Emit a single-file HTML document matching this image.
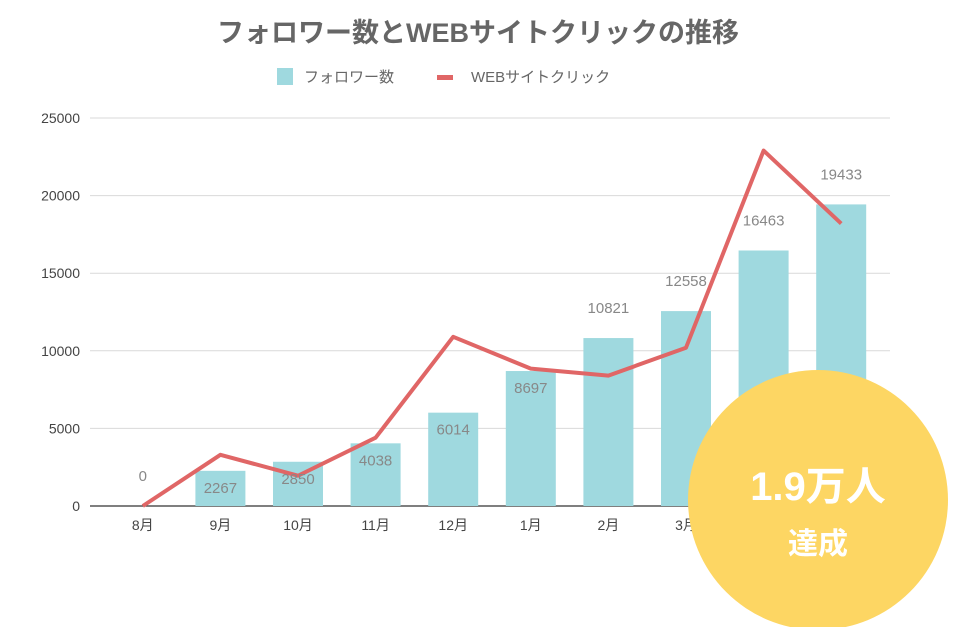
<!DOCTYPE html>
<html><head><meta charset="utf-8"><style>
body{margin:0;background:#fff;width:957px;height:627px;overflow:hidden;font-family:"Liberation Sans","Noto Sans CJK JP",sans-serif}
svg{display:block}
</style></head><body>
<svg id="chart" width="957" height="627">
<text x="478" y="42" text-anchor="middle" font-size="27" font-weight="bold" fill="#666" font-family="Liberation Sans, Noto Sans CJK JP, sans-serif">フォロワー数とWEBサイトクリックの推移</text>
<g>
<rect x="277" y="68" width="16" height="17" fill="#9fd9df"/>
<text x="304" y="82" font-size="15" fill="#666">フォロワー数</text>
<rect x="437" y="75" width="16" height="5" fill="#e06666"/>
<text x="471" y="82" font-size="15" fill="#666">WEBサイトクリック</text>
</g>
<g id="grid"></g><g id="bars"></g><g id="line"></g><g id="labels"></g>
<g>
<circle cx="818" cy="500" r="130" fill="#fdd663"/>
<text x="818" y="500" text-anchor="middle" font-size="40" font-weight="bold" fill="#fff">1.9万人</text>
<text x="818" y="554" text-anchor="middle" font-size="30" font-weight="bold" fill="#fff">達成</text>
</g>
</svg>
<script>
const categories=["8月","9月","10月","11月","12月","1月","2月","3月","4月","5月"];
const followers=[0,2267,2850,4038,6014,8697,10821,12558,16463,19433];
const clicks=[0,3300,1950,4400,10900,8850,8400,10200,22900,18200];
const yTicks=[0,5000,10000,15000,20000,25000];
const NS="http://www.w3.org/2000/svg";
const x0=104,step=77.6,yBase=506,yTop=118,yMax=25000;
const xS=i=>x0+step*(i+0.5);
const yS=v=>yBase-(v/yMax)*(yBase-yTop);
function mk(tag,attrs,parent){const e=document.createElementNS(NS,tag);for(const k in attrs)e.setAttribute(k,attrs[k]);parent.appendChild(e);return e;}
const grid=document.getElementById('grid'),bars=document.getElementById('bars'),line=document.getElementById('line'),labels=document.getElementById('labels');
yTicks.forEach(t=>{
  const l=mk('line',{x1:90,x2:890,y1:yS(t),y2:yS(t),stroke:t===0?'#333':'#d9d9d9','stroke-width':t===0?1.3:1},grid);
  
  
  const tx=mk('text',{x:80,y:yS(t)+5,'text-anchor':'end','font-size':14,fill:'#444'},grid);
  tx.textContent=t;
  
  
});
categories.forEach((c,i)=>{
  const tx=mk('text',{x:xS(i),y:530,'text-anchor':'middle','font-size':14,fill:'#444'},grid);
  tx.textContent=c;
  
  
});
followers.forEach((v,i)=>{
  const w=50;
  const r=mk('rect',{x:xS(i)-w/2,y:yS(v),width:w,height:yBase-yS(v),fill:'#9fd9df'},bars);
  
  
  const inside=v>0&&v<10000;
  const tx=mk('text',{x:xS(i),y:inside?yS(v)+22:yS(v)-25,'text-anchor':'middle','font-size':15,fill:'#888'},labels);
  tx.textContent=v;
  
  
});
const p=mk('polyline',{points:clicks.map((v,i)=>xS(i)+','+yS(v)).join(' '),fill:'none',stroke:'#e06666','stroke-width':4,'stroke-linejoin':'round'},line);


</script>
</body></html>
